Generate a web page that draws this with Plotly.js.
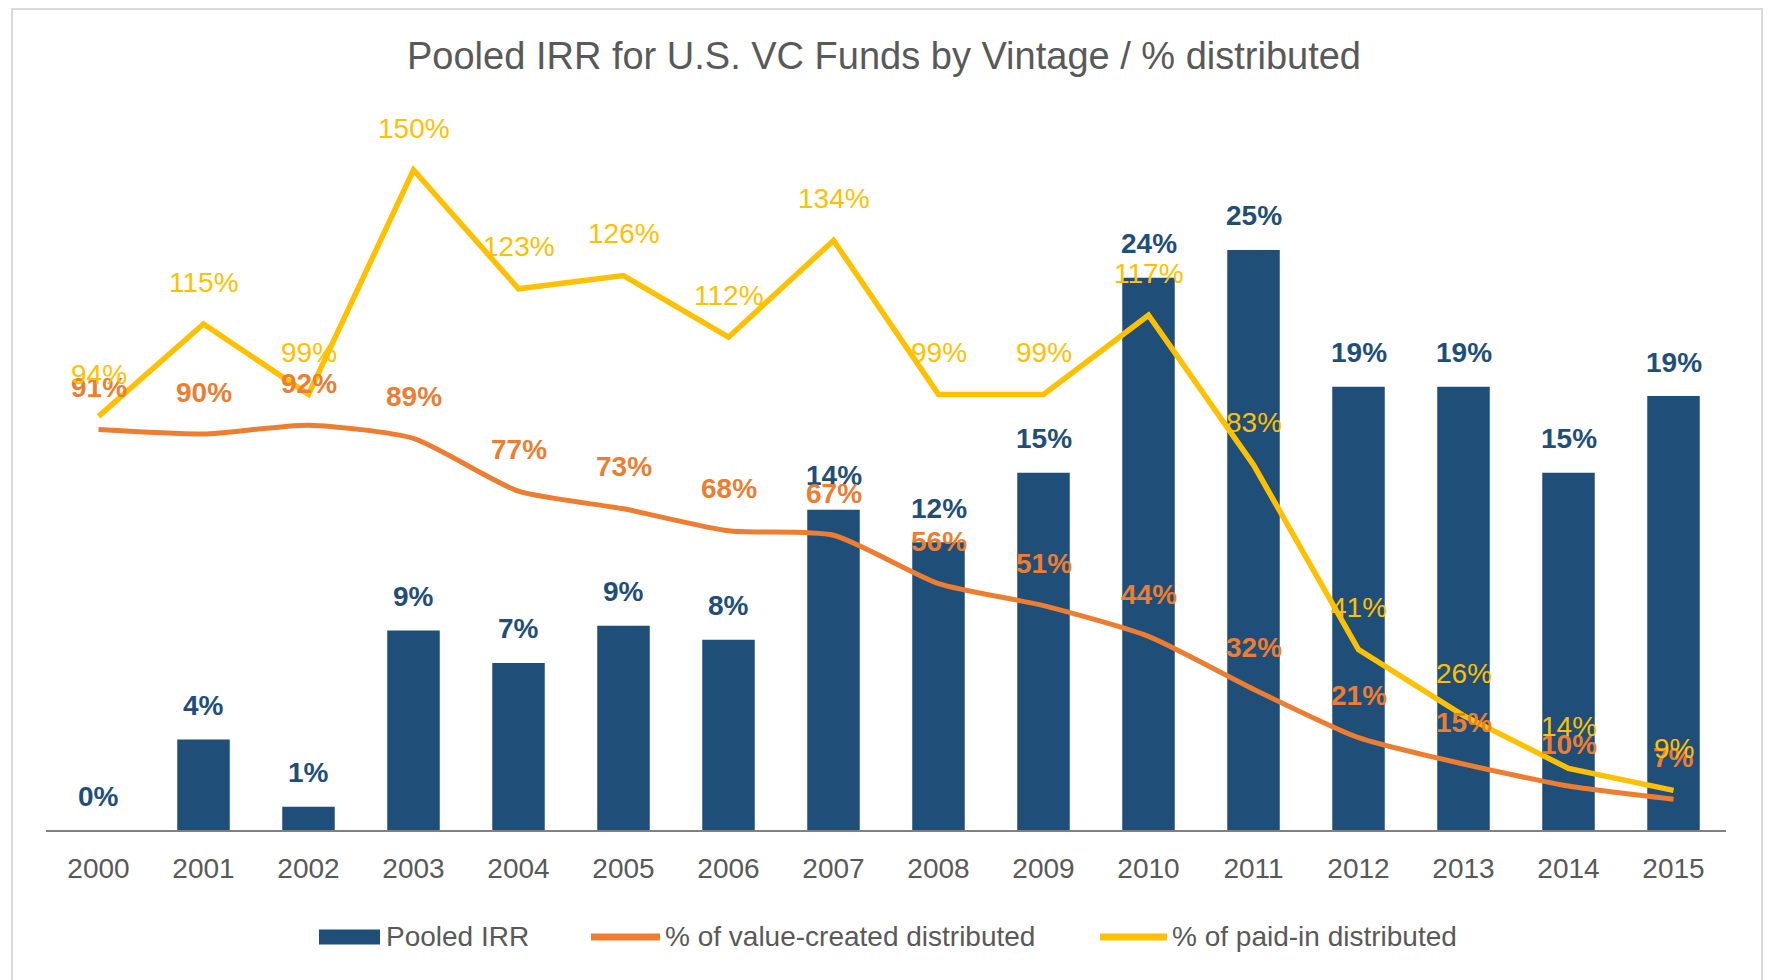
<!DOCTYPE html>
<html>
<head>
<meta charset="utf-8">
<script src="https://cdn.plot.ly/plotly-3.0.1.min.js"></script>
<style>
  html, body { margin: 0; padding: 0; background: #ffffff; }
  #chart { width: 1768px; height: 980px; }
</style>
</head>
<body>
<div id="chart"></div>
<script>
// ---- data ----
const years = ['2000','2001','2002','2003','2004','2005','2006','2007','2008','2009','2010','2011','2012','2013','2014','2015'];
const pooledIRR = [0, 3.9, 1.0, 8.6, 7.2, 8.8, 8.2, 13.8, 12.4, 15.4, 23.8, 25.0, 19.1, 19.1, 15.4, 18.7];
const valueCreatedDistributed = [91, 90, 92, 89, 77, 73, 68, 67, 56, 51, 44, 32, 21, 15, 10, 7];
const paidInDistributed = [94, 115, 99, 150, 123, 126, 112, 134, 99, 99, 117, 83, 41, 26, 14, 9];
const seriesNames = ['Pooled IRR', '% of value-created distributed', '% of paid-in distributed'];
const chartTitle = 'Pooled IRR for U.S. VC Funds by Vintage / % distributed';

// ---- style ----
const FONT = 'Liberation Sans, Arial, Helvetica, sans-serif';
const GRAY = '#595959';
const BLUE = '#1F4E79';
const ORANGE = '#ED7D31';
const YELLOW = '#FFC000';

// plot-area geometry (pixels)
const W = 1768, H = 980;
const L = 46, R = 1726, T = 126, B = 830;
const px2x = p => (p - L) / (R - L);
const px2y = p => (B - p) / (B - T);

const traces = [
  {
    type: 'bar', x: years, y: pooledIRR, name: seriesNames[0],
    marker: { color: BLUE, line: { width: 0 } }, width: 0.5,
    hoverinfo: 'skip', showlegend: false
  },
  {
    type: 'scatter', mode: 'lines', x: years, y: valueCreatedDistributed, yaxis: 'y2',
    name: seriesNames[1], line: { color: ORANGE, width: 5, shape: 'spline', smoothing: 0.6 },
    hoverinfo: 'skip', showlegend: false
  },
  {
    type: 'scatter', mode: 'lines', x: years, y: paidInDistributed, yaxis: 'y2',
    name: seriesNames[2], line: { color: YELLOW, width: 5.5 },
    hoverinfo: 'skip', showlegend: false
  }
];

// annotations on a category axis use the category serial number
const annotations = [];
years.forEach((yr, i) => {
  annotations.push({
    x: i, y: pooledIRR[i], xref: 'x', yref: 'y', yshift: 34,
    text: Math.round(pooledIRR[i]) + '%', showarrow: false,
    font: { family: FONT, size: 28, color: BLUE, weight: 'bold' }
  });
});
years.forEach((yr, i) => {
  annotations.push({
    x: i, y: valueCreatedDistributed[i], xref: 'x', yref: 'y2', yshift: 42,
    text: valueCreatedDistributed[i] + '%', showarrow: false,
    font: { family: FONT, size: 28, color: ORANGE, weight: 'bold' }
  });
});
years.forEach((yr, i) => {
  annotations.push({
    x: i, y: paidInDistributed[i], xref: 'x', yref: 'y2', yshift: 42,
    text: paidInDistributed[i] + '%', showarrow: false,
    font: { family: FONT, size: 28, color: YELLOW }
  });
});

// custom legend
const legendY = 937;
const legendItems = [
  { kind: 'bar', x0: 319, x1: 380, tx: 384, color: BLUE, label: seriesNames[0] },
  { kind: 'line', x0: 591, x1: 660, tx: 663, color: ORANGE, label: seriesNames[1] },
  { kind: 'line', x0: 1100, x1: 1167, tx: 1170, color: YELLOW, label: seriesNames[2] }
];
const shapes = [];
legendItems.forEach(it => {
  if (it.kind === 'bar') {
    shapes.push({ type: 'rect', xref: 'paper', yref: 'paper',
      x0: px2x(it.x0), x1: px2x(it.x1), y0: px2y(legendY + 7.5), y1: px2y(legendY - 7.5),
      fillcolor: it.color, line: { width: 0 } });
  } else {
    shapes.push({ type: 'line', xref: 'paper', yref: 'paper',
      x0: px2x(it.x0), x1: px2x(it.x1), y0: px2y(legendY), y1: px2y(legendY),
      line: { color: it.color, width: 7 } });
  }
  annotations.push({ xref: 'paper', yref: 'paper', x: px2x(it.tx), y: px2y(legendY),
    xanchor: 'left', yanchor: 'middle', showarrow: false, text: it.label,
    font: { family: FONT, size: 28, color: GRAY } });
});
// chart-area border
shapes.push({ type: 'rect', xref: 'paper', yref: 'paper', layer: 'below',
  x0: px2x(12), x1: px2x(1762), y0: px2y(1000), y1: px2y(9),
  line: { color: '#d9d9d9', width: 2 }, fillcolor: 'rgba(0,0,0,0)' });

const layout = {
  width: W, height: H,
  margin: { l: L, r: W - R, t: T, b: H - B, pad: 0 },
  paper_bgcolor: '#ffffff', plot_bgcolor: '#ffffff',
  font: { family: FONT, color: GRAY },
  title: { text: chartTitle, x: 0.5, xanchor: 'center', xref: 'container',
    y: 1 - 56 / H, yanchor: 'middle', yref: 'container',
    font: { family: FONT, size: 38, color: GRAY } },
  showlegend: false,
  bargap: 0.5,
  xaxis: { type: 'category', range: [-0.5, years.length - 0.5], showgrid: false, zeroline: false,
    showline: true, linecolor: '#808080', linewidth: 2,
    ticks: '', ticklabelstandoff: 12,
    tickfont: { family: FONT, size: 28, color: GRAY }, fixedrange: true },
  yaxis: { range: [0, 30.34], visible: false, showgrid: false, zeroline: false, fixedrange: true },
  yaxis2: { range: [0, 160], overlaying: 'y', side: 'right', visible: false,
    showgrid: false, zeroline: false, fixedrange: true },
  annotations: annotations,
  shapes: shapes
};

Plotly.newPlot('chart', traces, layout, { displayModeBar: false, staticPlot: true });
</script>
</body>
</html>
